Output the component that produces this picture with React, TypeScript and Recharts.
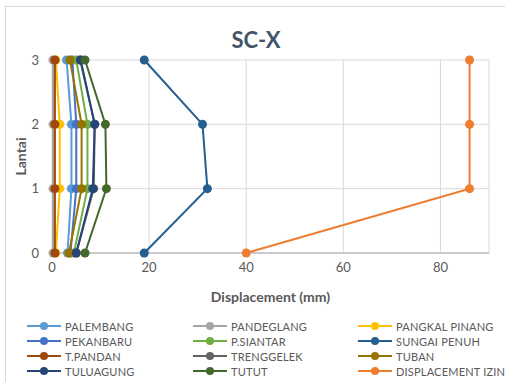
import { ScatterChart, Scatter, XAxis, YAxis, CartesianGrid, Label } from 'recharts';

// floor levels (y) and displacement per floor (x, mm), floor 0..3
const lantai = [0, 1, 2, 3];

const palembang = [3.2, 4.0, 4.0, 3.0];
const pandeglang = [0.2, 0.2, 0.2, 0.2];
const pangkalPinang = [0.8, 1.6, 1.6, 0.8];
const pekanbaru = [3.8, 5.0, 5.0, 4.2];
const pSiantar = [4.5, 7.3, 7.3, 5.0];
const sungaiPenuh = [19, 32, 31, 19];
const tPandan = [0.6, 0.6, 0.6, 0.6];
const trenggelek = [5.0, 8.6, 8.8, 5.8];
const tuban = [3.5, 6.1, 6.1, 3.7];
const tuluagung = [5.0, 8.4, 8.8, 5.9];
const tutut = [6.8, 11.2, 11.0, 6.8];
const displacementIzin = [40, 86, 86, 86];

const xTicks = [0, 20, 40, 60, 80];
const yTicks = [0, 1, 2, 3];

const series = [
  { name: 'PALEMBANG', values: palembang, color: '#5B9BD5' },
  { name: 'PANDEGLANG', values: pandeglang, color: '#A5A5A5' },
  { name: 'PANGKAL PINANG', values: pangkalPinang, color: '#FFC000' },
  { name: 'PEKANBARU', values: pekanbaru, color: '#4472C4' },
  { name: 'P.SIANTAR', values: pSiantar, color: '#70AD47' },
  { name: 'SUNGAI PENUH', values: sungaiPenuh, color: '#255E91' },
  { name: 'T.PANDAN', values: tPandan, color: '#9E480E' },
  { name: 'TRENGGELEK', values: trenggelek, color: '#636363' },
  { name: 'TUBAN', values: tuban, color: '#997300' },
  { name: 'TULUAGUNG', values: tuluagung, color: '#264478' },
  { name: 'TUTUT', values: tutut, color: '#43682B' },
  { name: 'DISPLACEMENT IZIN', values: displacementIzin, color: '#ED7D31' },
];

const font = 'Lato, "Open Sans", sans-serif';
const legendCols = [27, 193, 358];
const legendRows = [326, 341, 356, 371];

export default function App() {
  return (
    <div style={{ position: 'fixed', left: 0, top: 0, width: 505, height: 382, background: '#fff', fontFamily: font, overflow: 'hidden' }}>
      <div style={{ position: 'absolute', left: 5, top: 6, width: 510, height: 390, border: '1px solid #D9D9D9' }} />
      <div style={{ position: 'absolute', left: 0, width: 512, top: 26, textAlign: 'center', fontSize: 22, fontWeight: 700, color: '#44546A' }}>
        SC-X
      </div>
      <div style={{ position: 'absolute', left: 0, top: 0 }}>
        <ScatterChart width={505} height={382} margin={{ top: 60, right: 16, bottom: 99, left: 30 }}>
          <CartesianGrid stroke="#D9D9D9" strokeWidth={1} />
          <XAxis
            type="number"
            dataKey="x"
            domain={[0, 90]}
            ticks={xTicks}
            tickLine={false}
            tickSize={0}
            tickMargin={10}
            axisLine={{ stroke: '#BFBFBF', strokeWidth: 1.5 }}
            tick={{ fill: '#595959', fontSize: 13, fontFamily: font }}
            height={30}
          >
            <Label value="Displacement (mm)" position="bottom" offset={9} style={{ fill: '#595959', fontSize: 14, fontWeight: 700, fontFamily: font }} />
          </XAxis>
          <YAxis
            type="number"
            dataKey="y"
            domain={[0, 3]}
            ticks={yTicks}
            tickLine={false}
            tickSize={0}
            tickMargin={13}
            axisLine={false}
            tick={{ fill: '#595959', fontSize: 13, fontFamily: font }}
            width={22}
          >
            <Label value="Lantai" angle={-90} position="left" offset={9} style={{ fill: '#595959', fontSize: 14, fontWeight: 700, fontFamily: font, textAnchor: 'middle' }} />
          </YAxis>
          {series.map((s) => (
            <Scatter
              key={s.name}
              name={s.name}
              data={lantai.map((l, i) => ({ x: s.values[i], y: l }))}
              fill={s.color}
              line={{ stroke: s.color, strokeWidth: 2 }}
              lineType="joint"
              isAnimationActive={false}
              shape={(p: any) => <circle cx={p.cx} cy={p.cy} r={4.5} fill={s.color} />}
            />
          ))}
        </ScatterChart>
      </div>
      {series.map((s, i) => {
        const x = legendCols[i % 3];
        const y = legendRows[Math.floor(i / 3)];
        return (
          <div key={s.name} style={{ position: 'absolute', left: x, top: y - 8, height: 16, display: 'flex', alignItems: 'center', whiteSpace: 'nowrap' }}>
            <svg width={34} height={16}>
              <line x1={0} y1={8} x2={34} y2={8} stroke={s.color} strokeWidth={2} />
              <circle cx={17} cy={8} r={4} fill={s.color} />
            </svg>
            <span style={{ marginLeft: 4, fontSize: 11, color: '#595959', letterSpacing: 0.2 }}>{s.name}</span>
          </div>
        );
      })}
    </div>
  );
}
